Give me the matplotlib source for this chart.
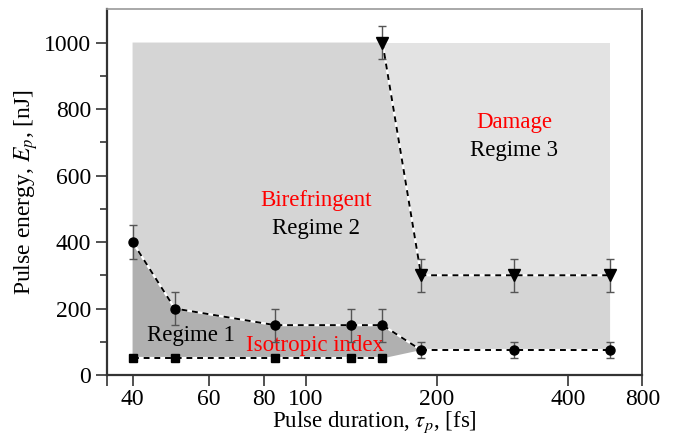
import matplotlib
matplotlib.use("Agg")
import matplotlib.pyplot as plt
import numpy as np

# ---- data ----
sq_x = [40, 50, 85, 127, 150]
sq_y = [50, 50, 50, 50, 50]

up_x = [40, 50, 85, 127, 150]
up_y = [400, 200, 150, 150, 150]
up_err = [50, 50, 50, 50, 50]

low_x = [184, 300, 500]
low_y = [75, 75, 75]
low_err = [25, 25, 25]

dmg_x = [150, 184, 300, 500]
dmg_y = [1000, 300, 300, 300]
dmg_err = [50, 50, 50, 50]

x_ticks = [40, 60, 80, 100, 200, 400, 593]
x_ticklabels = ["40", "60", "80", "100", "200", "400", "800"]
y_ticks = [0, 200, 400, 600, 800, 1000]

plt.rcParams['font.family'] = ['Liberation Serif', 'DejaVu Serif']
plt.rcParams['mathtext.fontset'] = 'stix'

fig = plt.figure(figsize=(6.75, 4.38), dpi=100)
ax = fig.add_axes([0.159, 0.1438, 0.7926, 0.835])
ax.set_xscale('log')
ax.set_xlim(35, 593)
ax.set_ylim(0, 1100)

c1 = '#b0b0b0'
c2 = '#d5d5d5'
c3 = '#e3e3e3'

# Regime 3 (damage) region
ax.fill([dmg_x[0], dmg_x[-1], dmg_x[-1], dmg_x[1]],
        [dmg_y[0], dmg_y[0], dmg_y[-1], dmg_y[1]], color=c3, lw=0, zorder=0)
# Regime 2 region
r2x = [up_x[0], up_x[0], dmg_x[0], dmg_x[1], dmg_x[-1], low_x[-1], low_x[0]] + up_x[::-1]
r2y = [up_y[0], 1000, dmg_y[0], dmg_y[1], dmg_y[-1], low_y[-1], low_y[0]] + up_y[::-1]
ax.fill(r2x, r2y, color=c2, lw=0, zorder=0)
# Regime 1 region
r1x = [sq_x[0]] + up_x + [low_x[0], sq_x[-1]] + sq_x[::-1]
r1y = [sq_y[0]] + up_y + [low_y[0], sq_y[-1]] + sq_y[::-1]
ax.fill(r1x, r1y, color=c1, lw=0, zorder=0)

def dashed(x, y):
    ax.plot(x, y, color='white', lw=1.6, zorder=2)
    ax.plot(x, y, color='black', lw=1.4, ls=(0, (3, 2.5)), zorder=3)

dashed(sq_x, sq_y)
dashed(up_x + [low_x[0]], up_y + [low_y[0]])
dashed(low_x, low_y)
dashed(dmg_x, dmg_y)

ekw = dict(ecolor='#555555', elinewidth=1.0, capsize=3, capthick=1.0, ls='none', zorder=4)
ax.errorbar(up_x, up_y, yerr=up_err, fmt='o', color='black', ms=6.5, **ekw)
ax.errorbar(low_x, low_y, yerr=low_err, fmt='o', color='black', ms=6.5, **ekw)
ax.errorbar(dmg_x, dmg_y, yerr=dmg_err, fmt='v', color='black', ms=8, **ekw)
ax.plot(sq_x, sq_y, 's', color='black', ms=5.5, ls='none', zorder=5)

fs = 16.5
ax.text(105.5, 526, 'Birefringent', color='red', fontsize=fs, ha='center', va='center')
ax.text(105.5, 442, 'Regime 2', color='black', fontsize=fs, ha='center', va='center')
ax.text(301, 758, 'Damage', color='red', fontsize=fs, ha='center', va='center')
ax.text(301, 676, 'Regime 3', color='black', fontsize=fs, ha='center', va='center')
ax.text(54.4, 120, 'Regime 1', color='black', fontsize=fs, ha='center', va='center')
ax.text(105, 90, 'Isotropic index', color='red', fontsize=fs, ha='center', va='center')

ax.set_xticks(x_ticks)
ax.set_xticklabels(x_ticklabels)
ax.xaxis.set_minor_locator(matplotlib.ticker.FixedLocator([35]))
ax.xaxis.set_minor_formatter(matplotlib.ticker.NullFormatter())
ax.set_yticks(y_ticks)
ax.yaxis.set_minor_locator(matplotlib.ticker.FixedLocator([100, 300, 500, 700, 900]))
ax.tick_params(axis='both', which='major', direction='out', length=8, width=1.2,
               labelsize=17, color='#333333')
ax.tick_params(axis='x', which='major', pad=2)
ax.tick_params(axis='both', which='minor', direction='out', length=5, width=1.2, color='#333333')
ax.tick_params(axis='x', which='minor', length=8)

for s in ['left', 'bottom']:
    ax.spines[s].set_linewidth(1.6)
    ax.spines[s].set_color('#333333')
ax.spines['top'].set_color('#999999')
ax.spines['top'].set_linewidth(1.2)
ax.spines['right'].set_color('#444444')
ax.spines['right'].set_linewidth(1.4)

ax.set_xlabel(r'Pulse duration, $\tau_p$, [fs]', fontsize=16.5, labelpad=0)
ax.set_ylabel(r'Pulse energy, $E_p$, [nJ]', fontsize=17, labelpad=3)

fig.savefig('out.png', dpi=100)
